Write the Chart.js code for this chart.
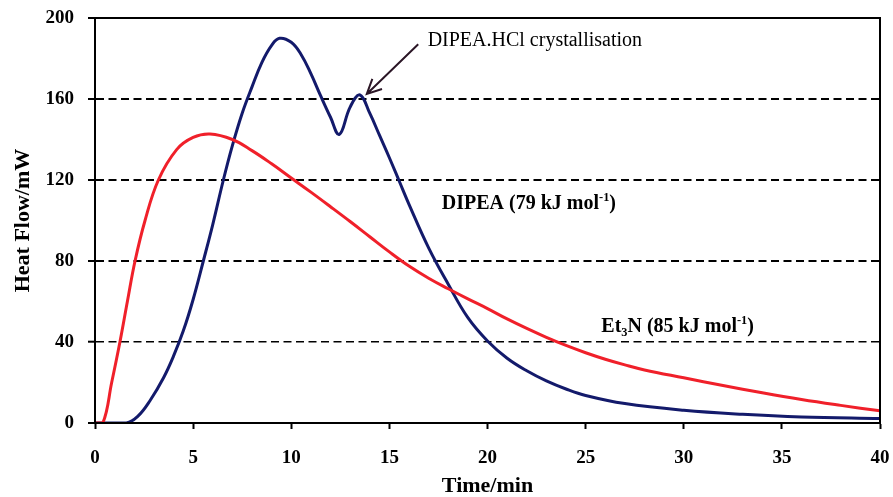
<!DOCTYPE html>
<html>
<head>
<meta charset="utf-8">
<script src="https://cdn.jsdelivr.net/npm/chart.js@4.4.1/dist/chart.umd.min.js"></script>
<style>
  html, body { margin: 0; padding: 0; background: #fff; }
  #wrap { width: 893px; height: 497px; }
</style>
</head>
<body>
<div id="wrap"><canvas id="heat-flow"></canvas></div>
<script>
// DIPEA trace (blue)
const dipeaTime = [0, 1.6, 2.2, 2.8, 3.5, 4, 4.5, 5, 5.52, 6, 6.54, 7, 7.5, 8, 8.5, 9, 9.4, 10, 10.5, 11, 11.5, 12, 12.45, 13, 13.5, 14, 14.5, 15, 15.5, 16, 17, 18, 19, 20, 21, 22, 23, 24, 25, 27, 30, 33, 36, 40];
const dipeaHeat = [0, 0, 3.5, 11, 22.5, 33, 45.5, 61, 80, 98, 120, 137, 153, 166, 178, 186.5, 190, 188, 182, 172.5, 161.5, 151, 142.5, 156, 162, 153, 142, 131, 119.5, 108, 86.5, 68.5, 52, 40.5, 32, 25.8, 20.8, 16.8, 13.6, 9.6, 6.3, 4.3, 3, 2.2];

// Et3N trace (red)
const et3nTime = [0, 0.4, 0.85, 1.27, 1.65, 2.04, 2.55, 3.23, 4.16, 5, 5.86, 7, 8, 9, 10, 11, 12, 13, 14, 15, 16, 17, 18, 19, 20, 21, 22, 23, 24, 25, 26, 27, 28, 30, 32, 34, 36, 38, 40];
const et3nHeat = [0, 0, 20, 40, 60, 80, 100, 120, 135, 141, 142.7, 140, 134.5, 128, 121, 114, 106.8, 99.5, 92, 84.5, 77.5, 71.5, 66.3, 61.3, 56.5, 51.4, 46.7, 42.3, 38.3, 34.7, 31.5, 28.7, 26.2, 22.3, 18.5, 14.9, 11.6, 8.7, 6];

const xMin = 0, xMax = 40, xStep = 5;
const yMin = 0, yMax = 200, yStep = 40;

const SERIF = '"Liberation Serif", "Times New Roman", serif';

function toPoints (xs, ys) {
  return xs.map((x, i) => ({ x, y: ys[i] }));
}

// draws text pieces, some raised or lowered, starting at x on baseline y
function drawRich (ctx, x, y, parts, size, weight) {
  ctx.textAlign = 'left';
  ctx.textBaseline = 'alphabetic';
  let cx = x;
  for (const [text, kind] of parts) {
    let s = size;
    let dy = 0;
    if (kind === 'sup') { s = size * 0.62; dy = -size * 0.38; }
    if (kind === 'sub') { s = size * 0.62; dy = size * 0.2; }
    ctx.font = `${weight} ${s}px ${SERIF}`;
    ctx.fillText(text, cx, y + dy);
    cx += ctx.measureText(text).width;
  }
}

const framePlugin = {
  id: 'frame',
  afterDatasetsDraw (chart) {
    const { ctx, chartArea: a } = chart;
    ctx.save();
    ctx.strokeStyle = '#000';
    ctx.lineWidth = 2;
    ctx.strokeRect(a.left, a.top, a.right - a.left, a.bottom - a.top);
    ctx.restore();
  }
};

const notesPlugin = {
  id: 'notes',
  afterDraw (chart) {
    const { ctx } = chart;
    const sx = chart.scales.x;
    const sy = chart.scales.y;
    const px = v => sx.getPixelForValue(v);
    const py = v => sy.getPixelForValue(v);
    ctx.save();
    ctx.fillStyle = '#000';

    drawRich(ctx, px(16.95), py(186), [['DIPEA.HCl crystallisation', '']], 20, 'normal');
    drawRich(ctx, px(17.67), py(105.7), [['DIPEA (79 kJ mol', ''], ['-1', 'sup'], [')', '']], 20, 'bold');
    drawRich(ctx, px(25.8), py(45), [['Et', ''], ['3', 'sub'], ['N (85 kJ mol', ''], ['-1', 'sup'], [')', '']], 20, 'bold');

    // arrow pointing at the second DIPEA peak
    const x1 = px(16.47), y1 = py(187);
    const x2 = px(13.85), y2 = py(162.5);
    const ang = Math.atan2(y2 - y1, x2 - x1);
    ctx.strokeStyle = '#2b1626';
    ctx.lineWidth = 2;
    ctx.beginPath();
    ctx.moveTo(x1, y1);
    ctx.lineTo(x2, y2);
    ctx.moveTo(x2 - 16 * Math.cos(ang - 0.45), y2 - 16 * Math.sin(ang - 0.45));
    ctx.lineTo(x2, y2);
    ctx.lineTo(x2 - 16 * Math.cos(ang + 0.45), y2 - 16 * Math.sin(ang + 0.45));
    ctx.stroke();
    ctx.restore();
  }
};

// eslint-disable-next-line no-undef
const heatChart = new Chart('heat-flow', {
  type: 'line',
  data: {
    datasets: [
      { data: toPoints(et3nTime, et3nHeat), label: 'Et3N', borderColor: '#f0202a', borderWidth: 3, pointRadius: 0, fill: false, tension: 0.4 },
      { data: toPoints(dipeaTime, dipeaHeat), label: 'DIPEA', borderColor: '#131a6b', borderWidth: 3, pointRadius: 0, fill: false, tension: 0.4 }
    ]
  },
  options: {
    responsive: true,
    maintainAspectRatio: false,
    animation: false,
    layout: { padding: { left: 0, right: 13, top: 18, bottom: 0 } },
    plugins: {
      legend: { display: false },
      tooltip: { enabled: false }
    },
    scales: {
      x: {
        type: 'linear',
        min: xMin,
        max: xMax,
        afterFit: scale => {
          scale.height = 74;
          scale.paddingLeft = 0;
          scale.paddingRight = 0;
        },
        ticks: {
          stepSize: xStep,
          padding: 18,
          color: '#000',
          font: { family: SERIF, size: 19, weight: 'bold' }
        },
        grid: { drawOnChartArea: false, tickLength: 6, tickWidth: 2, tickColor: '#000' },
        border: { display: true, color: '#000', width: 2 },
        title: {
          display: true,
          text: 'Time/min',
          color: '#000',
          padding: { top: 0, bottom: -3 },
          font: { family: SERIF, size: 22, weight: 'bold' }
        }
      },
      y: {
        min: yMin,
        max: yMax,
        afterFit: scale => {
          scale.width = 95;
          scale.paddingTop = 0;
          scale.paddingBottom = 0;
        },
        ticks: {
          stepSize: yStep,
          padding: 14,
          color: '#000',
          font: { family: SERIF, size: 19, weight: 'bold' }
        },
        grid: {
          color: ctx => (ctx.tick && (ctx.tick.value === yMin || ctx.tick.value === yMax)) ? 'rgba(0,0,0,0)' : '#000',
          lineWidth: ctx => (ctx.tick && ctx.tick.value === 40) ? 1.4 : 2,
          tickLength: 7,
          tickWidth: 2,
          tickColor: '#000'
        },
        border: { display: true, color: '#000', width: 2, dash: [8, 4.5] },
        title: {
          display: true,
          text: 'Heat Flow/mW',
          color: '#000',
          padding: { top: 10, bottom: 0 },
          font: { family: SERIF, size: 22, weight: 'bold' }
        }
      }
    }
  },
  plugins: [framePlugin, notesPlugin]
});
</script>
</body>
</html>
